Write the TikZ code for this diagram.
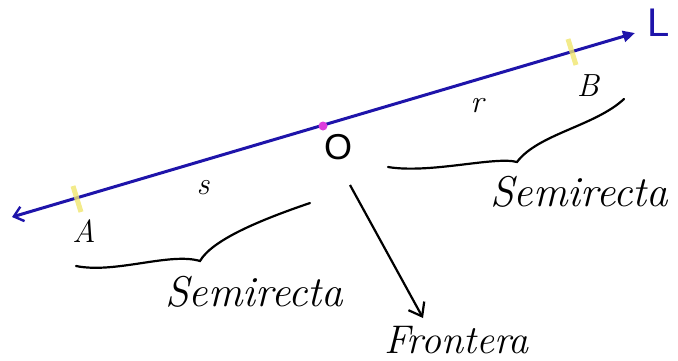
\documentclass[tikz,border=0pt]{standalone}
\usepackage{fontspec}
\newfontfamily\sansfont{Liberation Sans}
\usetikzlibrary{arrows.meta,calc}
\definecolor{lineblue}{RGB}{30,20,170}
\definecolor{markyellow}{RGB}{240,230,110}
\definecolor{markmag}{RGB}{220,60,220}
\tikzset{
  hand/.style={font=\fontsize{43}{48}\selectfont\itshape, inner sep=0pt, anchor=base west},
  smalllab/.style={font=\fontsize{32}{36}\selectfont\itshape, inner sep=0pt},
  tinylab/.style={font=\fontsize{32}{36}\selectfont\itshape, inner sep=0pt},
  brace/.style={line width=2.2pt, line cap=round},
  marker/.style={markyellow, line width=5pt, opacity=0.8}
}
\begin{document}
\begin{tikzpicture}[x=1pt,y=-1pt]
\useasboundingbox (0,0) rectangle (678,360);
\coordinate (left) at (12,217);
\coordinate (right) at (635,33);
\coordinate (pA) at (77,199);
\coordinate (pO) at (323,126);
\coordinate (pB) at (572,52);
% main line
\draw[lineblue, line width=3pt, arrows={Straight Barb[length=9pt,width=15pt,line width=2.4pt]-Triangle[length=12pt,width=11pt]}] (left) -- (right);
% markers
\draw[marker] ($(pA)+(-4,-13)$) -- ($(pA)+(4,13)$);
\draw[marker] ($(pB)+(-4,-13)$) -- ($(pB)+(4,13)$);
\fill[markmag] (pO) circle (4.5pt);
% labels
\node[font=\fontsize{40}{44}\selectfont\sansfont, text=lineblue, inner sep=0pt] (L) at (659,23) {L};
\node[font=\fontsize{36}{40}\selectfont\sansfont, inner sep=0pt] (O) at (338,147) {O};
\node[smalllab] (A) at (84,231) {A};
\node[smalllab] (B) at (588,86) {B};
\node[tinylab] (r) at (477,106) {r};
\node[tinylab] (s) at (203,188) {s};
% braces
\coordinate (b1l) at (76,266);
\coordinate (b1c) at (200,261);
\coordinate (b1r) at (310,203);
\draw[brace] (b1l) .. controls (115,274) and (170,252) .. (b1c) .. controls (212,240) and (260,220) .. (b1r);
\coordinate (b2l) at (388,167);
\coordinate (b2c) at (517,162);
\coordinate (b2r) at (624,99);
\draw[brace] (b2l) .. controls (430,174) and (495,156) .. (b2c) .. controls (538,134) and (595,126) .. (b2r);
\node[hand] (sem1) at (165,306) {Semirecta};
\node[hand] (sem2) at (490,206) {Semirecta};
\node[hand, font=\fontsize{40}{44}\selectfont\itshape] (fr) at (384,353) {Frontera};
\coordinate (fstart) at (350,185);
\coordinate (ftip) at (423,318);
\draw[line width=2.2pt, -{Straight Barb[length=12pt,width=18pt,line width=2.2pt]}] (fstart) -- (ftip);
\end{tikzpicture}
\end{document}
